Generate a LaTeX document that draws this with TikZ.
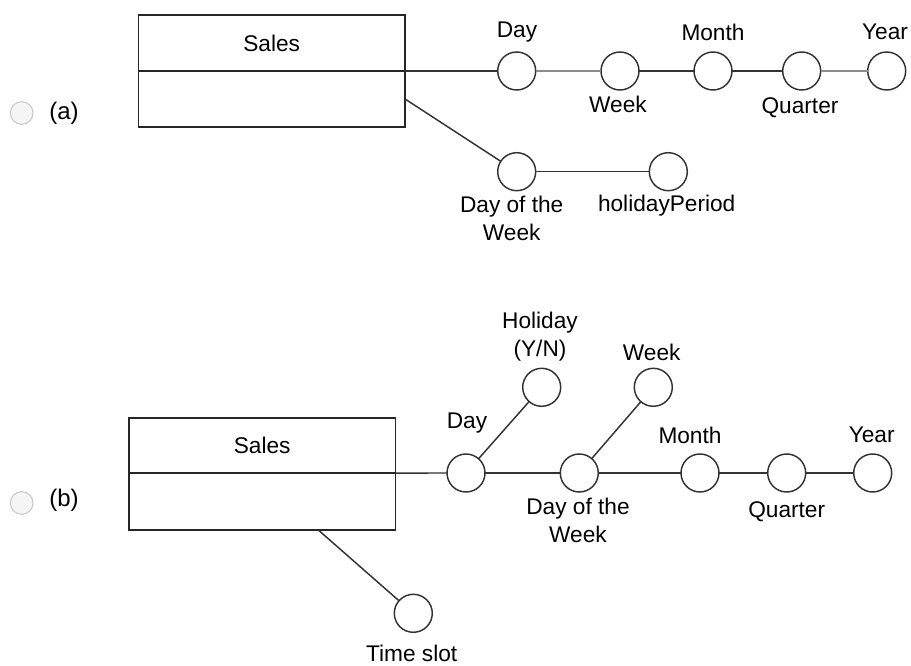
\documentclass[tikz,border=0pt]{standalone}
\usepackage{fontspec}
\setmainfont{Liberation Sans}
\begin{document}
\begin{tikzpicture}[x=0.75pt,y=-0.75pt,
  every node/.style={font=\fontsize{17}{21}\selectfont, inner sep=0pt, outer sep=0pt},
  lvl/.style={circle, draw=black!80, line width=1.1pt, minimum size=28.5pt, fill=white},
  link/.style={draw=black!80, line width=1.1pt},
  softlink/.style={draw=black!45, line width=1.1pt},
  tblpart/.style={rectangle, draw=black!85, line width=1.3pt, minimum width=200pt},
  radio/.style={circle, draw=black!22, fill=black!4, line width=0.8pt, minimum size=17pt},
  txt/.style={align=center},
  opt/.style={font=\fontsize{18}{21}\selectfont}
]
\useasboundingbox (0,0) rectangle (911,666);

% ---------- option (a) ----------
\node[radio] (radioA) at (21.7,113) {};
\node[opt] (optA) at (64,113) {(a)};

\node[tblpart, minimum height=42pt] (salesAhi) at (271.7,43) {Sales};
\node[tblpart, minimum height=42pt] (salesAlo) at (271.7,99) {};

\node[lvl] (dayA)     at (516.7,71) {};
\node[lvl] (weekA)    at (620,71) {};
\node[lvl] (monthA)   at (713,71) {};
\node[lvl] (quarterA) at (801.7,71) {};
\node[lvl] (yearA)    at (886.7,71) {};
\node[lvl] (dowA)     at (516.7,171.7) {};
\node[lvl] (holA)     at (668.3,171.7) {};

\node[txt] (tDayA)     at (517,32) {Day};
\node[txt] (tWeekA)    at (618,104) {Week};
\node[txt] (tMonthA)   at (713,32) {Month};
\node[txt] (tQuarterA) at (800,108) {Quarter};
\node[txt] (tYearA)    at (885,32) {Year};
\node[txt] (tDowA)     at (511.7,218) {Day of the\\Week};
\node[txt] (tHolA)     at (666.7,206) {holidayPeriod};

\draw[link] (salesAhi.south east) -- (dayA);
\draw[softlink] (dayA) -- (weekA);
\draw[link] (weekA) -- (monthA);
\draw[link] (monthA) -- (quarterA);
\draw[softlink] (quarterA) -- (yearA);
\draw[link] (salesAlo.east) -- (dowA);
\draw[link] (dowA) -- (holA);

% ---------- option (b) ----------
\node[radio] (radioB) at (21.7,503) {};
\node[opt] (optB) at (64,500) {(b)};

\node[tblpart, minimum height=41pt] (salesBhi) at (262.2,445.7) {Sales};
\node[tblpart, minimum height=42.75pt] (salesBlo) at (262.2,501.5) {};
\coordinate (slotFoot) at (318.3,530);

\node[lvl] (dayB)     at (466,473) {};
\node[lvl] (holB)     at (541.7,387.3) {};
\node[lvl] (dowB)     at (579.3,473) {};
\node[lvl] (weekB)    at (653.3,387.3) {};
\node[lvl] (monthB)   at (700,473) {};
\node[lvl] (quarterB) at (786.7,473) {};
\node[lvl] (yearB)    at (872.7,473) {};
\node[lvl] (slotB)    at (413.3,613.3) {};

\node[txt] (tHolB)     at (540,336.7) {Holiday\\(Y/N)};
\node[txt] (tWeekB)    at (651.7,352) {Week};
\node[txt] (tDayB)     at (467,423) {Day};
\node[txt] (tMonthB)   at (690,435) {Month};
\node[txt] (tYearB)    at (871.7,435) {Year};
\node[txt] (tDowB)     at (578,520.5) {Day of the\\Week};
\node[txt] (tQuarterB) at (786.7,511.7) {Quarter};
\node[txt] (tSlotB)    at (411.7,653.5) {Time slot};

\draw[link] (salesBhi.south east) -- (dayB);
\draw[link] (dayB) -- (dowB);
\draw[link] (dowB) -- (monthB);
\draw[link] (monthB) -- (quarterB);
\draw[link] (quarterB) -- (yearB);
\draw[link] (dayB) -- (holB);
\draw[link] (dowB) -- (weekB);
\draw[link] (slotFoot) -- (slotB);
\end{tikzpicture}
\end{document}
